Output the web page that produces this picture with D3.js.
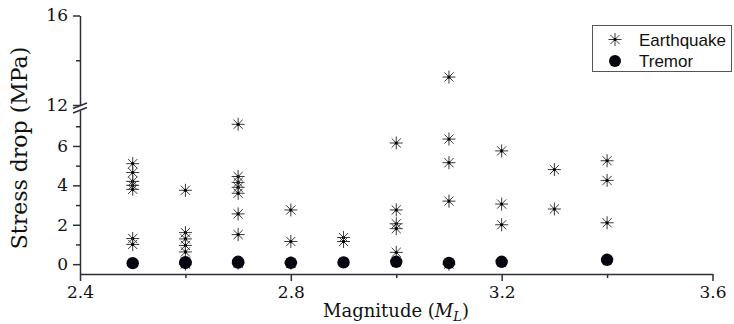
<!DOCTYPE html>
<html>
<head>
<meta charset="utf-8">
<script src="https://cdn.jsdelivr.net/npm/d3@7"></script>
<style>
  body { margin: 0; background: #fff; }
  svg { display: block; }
</style>
</head>
<body>
<div id="chart"></div>
<script>
// magnitudes that have earthquake estimates, and the stress drops at each one
const eqMagnitudes = [2.5, 2.6, 2.7, 2.8, 2.9, 3.0, 3.1, 3.2, 3.3, 3.4];
const eqStress = [
  [5.1, 4.65, 4.2, 4.0, 3.8, 1.3, 1.0],
  [3.75, 1.6, 1.28, 0.95, 0.62, 0.1, 0.0],
  [7.1, 4.45, 4.15, 3.9, 3.6, 2.55, 1.5, 0.05],
  [2.75, 1.15, 0.05],
  [1.35, 1.15],
  [6.15, 2.75, 2.05, 1.8, 0.6],
  [13.25, 6.35, 5.15, 3.2, 0.0],
  [5.75, 3.05, 2.0],
  [4.8, 2.8],
  [5.25, 4.25, 2.1]
];
const tremorMagnitudes = [2.5, 2.6, 2.6, 2.7, 2.7, 2.8, 2.9, 3.0, 3.1, 3.2, 3.4];
const tremorStress = [0.05, 0.06, 0.1, 0.08, 0.12, 0.07, 0.09, 0.12, 0.06, 0.12, 0.22];

const xTicks = [2.4, 2.8, 3.2, 3.6];
const xMinor = [2.6, 3.0, 3.4];
const yLowTicks = [0, 2, 4, 6];
const yLowMinor = [1, 3, 5, 7];
const yHighTicks = [12, 16];
const yHighMinor = [14];

const width = 734, height = 324;
const axisColor = "#2b2f38";

const svg = d3.select("#chart").append("svg")
  .attr("width", width)
  .attr("height", height);

const x = d3.scaleLinear().domain([2.4, 3.6]).range([80, 712.5]);
// broken y axis: two segments
const yLow = d3.scaleLinear().domain([-0.5, 7.8]).range([274, 110.5]);
const yHigh = d3.scaleLinear().domain([12, 16]).range([105, 15.5]);
const y = (v) => (v >= 12 ? yHigh(v) : yLow(v));

const serif = "DejaVu Serif, serif";

const styleAxis = (g, fontSize) => {
  g.selectAll("path, line").attr("stroke", axisColor).attr("stroke-width", 1.5);
  g.selectAll("text")
    .attr("fill", "#111")
    .style("font-family", serif)
    .style("font-size", fontSize + "px");
};

// x axis
const xAxis = svg.append("g")
  .attr("transform", "translate(0,274)")
  .call(d3.axisBottom(x).tickValues(xTicks).tickFormat(d3.format(".1f"))
    .tickSize(7).tickSizeOuter(0).tickPadding(5));
styleAxis(xAxis, 17);
svg.append("g")
  .attr("transform", "translate(0,274)")
  .call(d3.axisBottom(x).tickValues(xMinor).tickFormat("").tickSize(4).tickSizeOuter(0))
  .call((g) => g.select(".domain").remove())
  .call((g) => styleAxis(g, 17));

// y axis, lower and upper parts
const yAxisLow = svg.append("g")
  .attr("transform", "translate(80,0)")
  .call(d3.axisLeft(yLow).tickValues(yLowTicks).tickFormat(d3.format("d"))
    .tickSize(7).tickSizeOuter(0).tickPadding(5));
styleAxis(yAxisLow, 17);
svg.append("g")
  .attr("transform", "translate(80,0)")
  .call(d3.axisLeft(yLow).tickValues(yLowMinor).tickFormat("").tickSize(4).tickSizeOuter(0))
  .call((g) => g.select(".domain").remove())
  .call((g) => styleAxis(g, 17));

const yAxisHigh = svg.append("g")
  .attr("transform", "translate(80,0)")
  .call(d3.axisLeft(yHigh).tickValues(yHighTicks).tickFormat(d3.format("d"))
    .tickSize(7).tickSizeOuter(0).tickPadding(5));
styleAxis(yAxisHigh, 17);
svg.append("g")
  .attr("transform", "translate(80,0)")
  .call(d3.axisLeft(yHigh).tickValues(yHighMinor).tickFormat("").tickSize(4).tickSizeOuter(0))
  .call((g) => g.select(".domain").remove())
  .call((g) => styleAxis(g, 17));

// break marks on the y axis
const brk = svg.append("g").attr("transform", "translate(80,107.5)");
brk.append("polygon")
  .attr("points", "-6,1 6,-4.5 6,0 -6,5.5")
  .attr("fill", "#fff");
brk.selectAll("line.brk").data([-1.5, 3]).enter().append("line")
  .attr("class", "brk")
  .attr("x1", -7).attr("x2", 7)
  .attr("y1", (d) => d + 2.5).attr("y2", (d) => d - 3)
  .attr("stroke", axisColor).attr("stroke-width", 1.5);

// axis titles
svg.append("text")
  .attr("transform", "translate(27,148) rotate(-90)")
  .attr("text-anchor", "middle")
  .style("font-family", serif)
  .style("font-size", "22px")
  .attr("fill", "#111")
  .text("Stress drop (MPa)");

const xt = svg.append("text")
  .attr("x", 396).attr("y", 317)
  .attr("text-anchor", "middle")
  .style("font-family", serif)
  .style("font-size", "18px")
  .attr("fill", "#111");
xt.append("tspan").text("Magnitude (");
xt.append("tspan").style("font-style", "italic").text("M");
xt.append("tspan").style("font-style", "italic").style("font-size", "13px").attr("dy", 4).text("L");
xt.append("tspan").attr("dy", -4).text(")");

// asterisk marker
const starPath = (r) => {
  let p = "";
  for (let k = 0; k < 4; k++) {
    const a = (Math.PI / 4) * k;
    const dx = r * Math.cos(a), dy = r * Math.sin(a);
    p += `M${-dx},${-dy}L${dx},${dy}`;
  }
  return p;
};

const eqPoints = eqMagnitudes.flatMap((m, i) => eqStress[i].map((s) => ({ m, s })));
const tremorPoints = tremorMagnitudes.map((m, i) => ({ m, s: tremorStress[i] }));

const stars = svg.append("g").selectAll("g.eq").data(eqPoints).enter().append("g")
  .attr("class", "eq")
  .attr("transform", (d) => `translate(${x(d.m)},${y(d.s)})`);
stars.append("path")
  .attr("d", starPath(6.5))
  .attr("stroke", "#3a3a3a")
  .attr("stroke-width", 1)
  .attr("fill", "none");
stars.append("circle").attr("r", 1.6).attr("fill", "#000");

svg.append("g").selectAll("circle.tr").data(tremorPoints).enter().append("circle")
  .attr("class", "tr")
  .attr("cx", (d) => x(d.m))
  .attr("cy", (d) => y(d.s))
  .attr("r", 6.2)
  .attr("fill", "#05050f");

// legend
const legend = svg.append("g");
legend.append("rect")
  .attr("x", 592.5).attr("y", 25.5).attr("width", 139).attr("height", 46)
  .attr("fill", "#fff").attr("stroke", "#555").attr("stroke-width", 1);
legend.append("path")
  .attr("transform", "translate(615,39.5)")
  .attr("d", starPath(6.5))
  .attr("stroke", "#3a3a3a").attr("stroke-width", 1).attr("fill", "none");
legend.append("circle").attr("cx", 615).attr("cy", 39.5).attr("r", 1.4).attr("fill", "#000");
legend.append("circle").attr("cx", 615).attr("cy", 61).attr("r", 6).attr("fill", "#05050f");
legend.selectAll("text").data(["Earthquake", "Tremor"]).enter().append("text")
  .attr("x", 639)
  .attr("y", (d, i) => 45.5 + i * 21.5)
  .style("font-family", "Liberation Sans, Arial, sans-serif")
  .style("font-size", "17px")
  .attr("fill", "#111")
  .text((d) => d);
</script>
</body>
</html>
